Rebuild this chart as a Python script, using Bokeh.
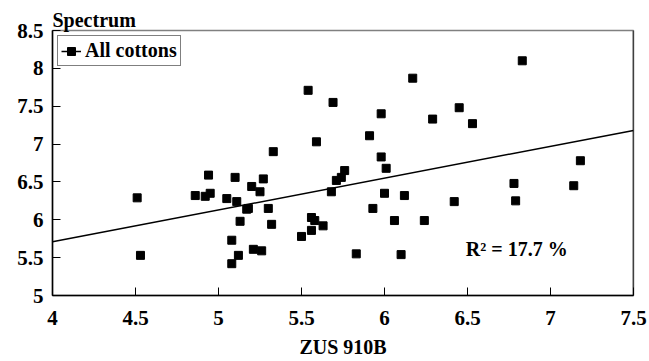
from bokeh.plotting import figure
from bokeh.models import Range1d, Legend, LegendItem, Label, Span, FixedTicker, LinearAxis
from bokeh.embed import file_html
from bokeh.resources import INLINE

zus_910b = [4.51, 4.53, 4.86, 4.92, 4.95, 4.94, 5.05, 5.11, 5.10, 5.17, 5.18, 5.13, 5.08, 5.12,
            5.08, 5.21, 5.26, 5.20, 5.25, 5.27, 5.30, 5.32, 5.33, 5.50, 5.56, 5.56, 5.58, 5.63,
            5.54, 5.59, 5.69, 5.68, 5.71, 5.74, 5.76, 5.83, 5.91, 5.93, 5.98, 5.98, 6.01, 6.00,
            6.06, 6.10, 6.12, 6.17, 6.24, 6.29, 6.42, 6.45, 6.53, 6.78, 6.79, 6.83, 7.14, 7.18]
spectrum = [6.29, 5.53, 6.32, 6.31, 6.35, 6.59, 6.28, 6.24, 6.56, 6.14, 6.15, 5.98, 5.73, 5.53,
            5.42, 5.61, 5.59, 6.44, 6.37, 6.54, 6.15, 5.94, 6.90, 5.78, 5.86, 6.03, 5.99, 5.92,
            7.71, 7.03, 7.55, 6.37, 6.52, 6.56, 6.65, 5.55, 7.11, 6.15, 7.40, 6.83, 6.68, 6.35,
            5.99, 5.54, 6.32, 7.87, 5.99, 7.33, 6.24, 7.48, 7.27, 6.48, 6.25, 8.10, 6.45, 6.78]
trend_x = [4.0, 7.5]
trend_y = [5.71, 7.18]
x_ticks = [4, 4.5, 5, 5.5, 6, 6.5, 7, 7.5]
y_ticks = [5, 5.5, 6, 6.5, 7, 7.5, 8, 8.5]
series_name = "All cottons"
r2_text = "R\u00b2 = 17.7 %"

FONT = "Liberation Serif"

p = figure(width=649, height=361, output_backend="svg", toolbar_location=None,
           x_range=Range1d(4, 7.5), y_range=Range1d(5, 8.5),
           x_axis_type=None, y_axis_type=None,
           min_border_left=52, min_border_right=16, min_border_top=30, min_border_bottom=66)

p.title.text = "Spectrum"
p.title.text_font = FONT
p.title.text_font_size = "20px"
p.title.text_font_style = "bold"
p.title.text_color = "black"
p.title.align = "left"
p.title.offset = 0
p.title.standoff = 0

p.grid.visible = False
p.outline_line_color = "#808080"
p.outline_line_width = 1.5
p.background_fill_color = "white"

common = dict(major_tick_in=8, major_tick_out=0, minor_tick_line_color=None,
              axis_line_color="black", axis_line_width=1.5,
              major_tick_line_color="black", major_tick_line_width=1,
              major_label_text_font=FONT, major_label_text_font_size="21px",
              major_label_text_font_style="bold", major_label_text_color="black")

xaxis = LinearAxis(ticker=FixedTicker(ticks=x_ticks), major_label_standoff=15,
                   axis_label="ZUS 910B", axis_label_text_font=FONT,
                   axis_label_text_font_size="20px", axis_label_text_font_style="bold",
                   axis_label_text_color="black", axis_label_standoff=8, **common)
yaxis = LinearAxis(ticker=FixedTicker(ticks=y_ticks), major_label_standoff=9, **common)
p.add_layout(xaxis, "below")
p.add_layout(yaxis, "left")

p.add_layout(Span(location=7.5, dimension="height", line_color="black", line_width=1.5))

trend = p.line(trend_x, trend_y, line_color="black", line_width=1.5)
pts = p.scatter(zus_910b, spectrum, marker="square", size=8, fill_color="black", line_color="black")

legend = Legend(items=[LegendItem(label=series_name, renderers=[trend, pts])],
                location="top_left", margin=5, padding=3, spacing=0,
                border_line_color="black", border_line_width=1,
                label_text_font=FONT, label_text_font_size="20px", label_text_font_style="bold",
                label_text_color="black",
                glyph_width=20, glyph_height=20, label_standoff=4, background_fill_alpha=1)
p.add_layout(legend)

p.add_layout(Label(x=6.49, y=5.61, text=r2_text, text_font=FONT, text_font_size="20px",
                   text_font_style="bold", text_color="black",
                   text_baseline="middle", text_align="left"))

open("out.html", "w").write(file_html(p, INLINE))
